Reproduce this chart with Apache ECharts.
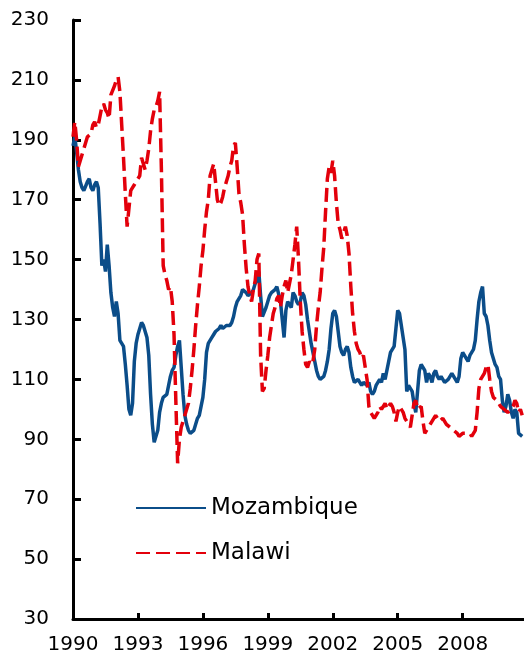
<!DOCTYPE html>
<html>
<head>
<meta charset="utf-8">
<script src="https://cdn.jsdelivr.net/npm/echarts@6/dist/echarts.min.js"></script>
<style>
html,body{margin:0;padding:0;background:#fff;}
#chart{width:524px;height:660px;}
</style>
</head>
<body>
<div id="chart"></div>
<script>
// Monthly observations, Jan 1990 onward
var startYear = 1990;
var monthCount = 251;
var tickYears = [1990, 1993, 1996, 1999, 2002, 2005, 2008];
var seriesNames = ['Mozambique', 'Malawi'];

var mozambique = [
188,191,186,180,176,174,173,173,176,177,174,173,
175,176,174,162,148,150,146,155,148,139,134,131,
136,132,123,122,121,115,108,100,98,102,116,122,
125,127,129,128,128,124,118,105,95,89,89,93,
99,102,104,104,105,108,111,113,114,118,121,123,
114,105,98,95,93,92,92,93,95,97,98,101,
104,110,119,122,123,124,125,126,126,127,128,127,
127,128,128,128,129,131,134,136,136,138,140,140,
139,138,138,139,140,142,143,146,138,131,131,134,
136,138,139,139,140,141,141,136,130,124,133,136,
135,134,139,138,136,135,136,139,138,135,130,126,
122,119,116,113,111,110,110,111,113,116,120,127,
132,133,131,126,121,119,118,120,121,119,114,111,
109,109,110,109,108,109,109,108,109,106,105,106,
108,109,110,109,112,110,110,116,119,120,121,127,
133,132,128,124,120,106,108,107,106,102,99,106,
113,115,115,113,109,112,111,109,112,113,111,110,
111,110,109,109,110,111,112,111,110,109,111,117,
119,118,117,116,118,119,120,123,130,136,139,141,
132,131,128,123,119,117,115,114,111,110,103,99,
101,105,103,99,97,100,99,92,92,91
];

var malawi = [
191,196,190,181,183,185,187,189,191,191,192,195,
196,194,195,198,201,202,200,199,197,205,205,208,
210,211,206,195,184,172,161,167,173,174,175,176,
177,178,184,182,180,183,187,193,197,200,201,203,
206,180,148,145,143,140,141,136,125,103,82,90,
94,96,98,100,102,107,113,120,128,135,141,148,
153,160,166,170,178,180,182,176,170,168,169,171,
174,176,178,181,183,188,189,181,172,169,165,155,
147,141,138,136,140,143,150,152,118,106,107,113,
118,124,128,132,134,137,138,134,138,141,143,139,
142,145,150,155,161,150,136,126,120,115,114,116,
115,116,120,128,134,139,147,154,166,177,181,179,
183,178,169,162,160,157,159,161,158,152,141,132,
126,122,120,119,117,118,118,110,101,99,98,97,
97,99,101,100,100,102,100,101,102,101,99,96,
99,101,101,99,97,96,95,94,98,102,103,100,
100,101,96,92,93,94,95,96,96,98,97,96,
96,97,96,95,95,94,94,93,93,92,91,91,
92,92,92,92,92,91,92,93,99,107,110,111,
112,114,115,110,106,104,104,103,102,101,101,100,
100,99,99,100,101,103,102,99,100,98
];

var months = [];
for (var i = 0; i < monthCount; i++) {
  var y = startYear + Math.floor(i / 12);
  var m = (i % 12) + 1;
  months.push(y + '-' + (m < 10 ? '0' + m : m));
}

function isTickMonth(index) {
  if (index % 12 !== 0) return false;
  var yr = startYear + index / 12;
  return tickYears.indexOf(yr) !== -1;
}

var chart = echarts.init(document.getElementById('chart'), null, {renderer: 'canvas'});
var FONT = 'DejaVu Sans';
chart.setOption({
  animation: false,
  backgroundColor: '#ffffff',
  grid: {left: 73, right: 0, top: 20, bottom: 41, containLabel: false},
  legend: {
    orient: 'vertical',
    left: 130,
    top: 491,
    itemWidth: 70,
    itemHeight: 14,
    itemGap: 21,
    selectedMode: false,
    itemStyle: {opacity: 0},
    textStyle: {fontFamily: FONT, fontSize: 23, color: '#000', lineHeight: 24},
    data: seriesNames
  },
  xAxis: {
    type: 'category',
    data: months,
    boundaryGap: false,
    axisLine: {show: true, onZero: false, lineStyle: {color: '#000', width: 3}},
    axisTick: {
      show: true, inside: true, length: 6,
      interval: function (index) { return isTickMonth(index) && index !== 0; },
      lineStyle: {color: '#000', width: 3}
    },
    axisLabel: {
      interval: function (index) { return isTickMonth(index); },
      formatter: function (val) { return val.slice(0, 4); },
      margin: 16,
      fontFamily: FONT, fontSize: 20, color: '#000'
    },
    splitLine: {show: false}
  },
  yAxis: {
    type: 'value',
    min: 30, max: 230, interval: 20,
    axisLine: {show: true, lineStyle: {color: '#000', width: 3}},
    axisTick: {show: true, inside: true, length: 8, lineStyle: {color: '#000', width: 3}},
    axisLabel: {margin: 24, fontFamily: FONT, fontSize: 20, color: '#000'},
    splitLine: {show: false}
  },
  series: [
    {
      name: seriesNames[0],
      type: 'line',
      data: mozambique,
      symbol: 'none',
      showSymbol: false,
      lineStyle: {color: '#0b4d89', width: 3.5},
      itemStyle: {color: '#0b4d89'},
      z: 3
    },
    {
      name: seriesNames[1],
      type: 'line',
      data: malawi,
      symbol: 'none',
      showSymbol: false,
      lineStyle: {color: '#e3000b', width: 3.5, type: [14, 6]},
      itemStyle: {color: '#e3000b'},
      z: 4
    }
  ]
});
</script>
</body>
</html>
